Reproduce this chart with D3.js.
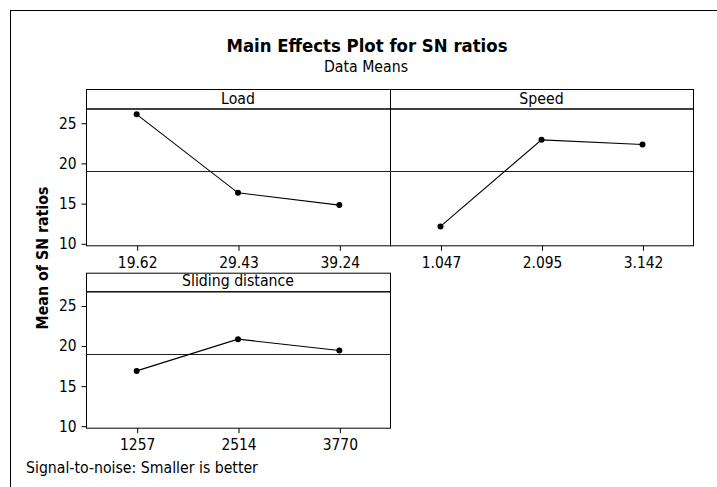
<!DOCTYPE html>
<html>
<head>
<meta charset="utf-8">
<script src="https://cdn.jsdelivr.net/npm/d3@7"></script>
<style>
  body { margin: 0; background: #fff; }
  svg text { font-family: "DejaVu Sans Condensed", "DejaVu Sans", sans-serif; font-stretch: condensed; fill: #000; }
  .axis .domain { display: none; }
  .axis line { stroke: #000; }
  .axis text { font-size: 15.4px; }
</style>
</head>
<body>
<script>

// Chart data
var factors = ['Load', 'Speed', 'Sliding distance']
var loadLevels = ['19.62', '29.43', '39.24']
var speedLevels = ['1.047', '2.095', '3.142']
var slidingLevels = ['1257', '2514', '3770']
var loadMeans = [26.04, 16.28, 14.75]
var speedMeans = [12.1, 22.87, 22.3]
var slidingMeans = [16.84, 20.8, 19.38]
var grandMean = 18.97
var yTicks = [10, 15, 20, 25]
var yDomain = [9.75, 26.77]

var levels = [loadLevels, speedLevels, slidingLevels]
var means = [loadMeans, speedMeans, slidingMeans]

// Canvas
var W = 717, H = 487

var svg = d3.select('body').append('svg')
  .attr('width', W)
  .attr('height', H)

// outer frame (runs off the right and bottom edge like the original)
svg.append('rect')
  .attr('x', 10.5).attr('y', 10.5)
  .attr('width', 730).attr('height', 500)
  .attr('fill', 'none').attr('stroke', '#000')

svg.append('text')
  .attr('x', 367).attr('y', 52)
  .attr('text-anchor', 'middle')
  .style('font-size', '18.4px').style('font-weight', 'bold')
  .text('Main Effects Plot for SN ratios')

svg.append('text')
  .attr('x', 366).attr('y', 72)
  .attr('text-anchor', 'middle')
  .style('font-size', '15.7px')
  .text('Data Means')

// panel grid: 2 columns, 2 rows
var cols = [86, 390, 693]
var rows = [
  {stripTop: 89, plotTop: 108.5, plotBottom: 245.3},
  {stripTop: 272.7, plotTop: 291.3, plotBottom: 427.7}
]

factors.forEach(function(name, i) {
  var col = i % 2, row = Math.floor(i / 2)
  var x0 = cols[col], x1 = cols[col + 1]
  var r = rows[row]

  var xScale = d3.scalePoint().domain(levels[i]).range([x0, x1]).padding(0.5)
  var yScale = d3.scaleLinear().domain(yDomain).range([r.plotBottom, r.plotTop])

  var g = svg.append('g')

  // strip
  g.append('rect')
    .attr('x', x0 + 0.5).attr('y', r.stripTop + 0.5)
    .attr('width', x1 - x0).attr('height', r.plotTop - r.stripTop)
    .attr('fill', '#fff').attr('stroke', '#000')

  g.append('text')
    .attr('x', (x0 + x1) / 2).attr('y', r.plotTop - 5)
    .attr('text-anchor', 'middle')
    .style('font-size', '15.7px')
    .text(name)

  // plot box
  g.append('rect')
    .attr('x', x0 + 0.5).attr('y', r.plotTop + 0.5)
    .attr('width', x1 - x0).attr('height', r.plotBottom - r.plotTop)
    .attr('fill', 'none').attr('stroke', '#000')

  // grand mean reference line
  g.append('line')
    .attr('x1', x0).attr('x2', x1)
    .attr('y1', Math.round(yScale(grandMean)) + 0.5)
    .attr('y2', Math.round(yScale(grandMean)) + 0.5)
    .attr('stroke', '#222')

  // x axis
  g.append('g')
    .attr('class', 'axis')
    .attr('transform', 'translate(0.5,' + (r.plotBottom + 0.5) + ')')
    .call(d3.axisBottom(xScale).tickSize(5).tickPadding(6))

  // y axis only on the left column
  if (col === 0) {
    g.append('g')
      .attr('class', 'axis')
      .attr('transform', 'translate(' + (x0 + 0.5) + ',0.5)')
      .call(d3.axisLeft(yScale).tickValues(yTicks).tickSize(5).tickPadding(5))
  }

  var pts = levels[i].map(function(lv, j) { return {level: lv, mean: means[i][j]} })

  var line = d3.line()
    .x(function(d) { return xScale(d.level) })
    .y(function(d) { return yScale(d.mean) })

  g.append('path')
    .datum(pts)
    .attr('d', line)
    .attr('fill', 'none')
    .attr('stroke', '#000')
    .attr('stroke-width', 1.1)

  g.selectAll('circle')
    .data(pts)
    .enter().append('circle')
    .attr('cx', function(d) { return xScale(d.level) })
    .attr('cy', function(d) { return yScale(d.mean) })
    .attr('r', 3)
    .attr('fill', '#000')
})

// y axis title
svg.append('text')
  .attr('transform', 'translate(48,258) rotate(-90)')
  .attr('text-anchor', 'middle')
  .style('font-size', '15.8px').style('font-weight', 'bold')
  .text('Mean of SN ratios')

svg.append('text')
  .attr('x', 26).attr('y', 473)
  .style('font-size', '15.7px')
  .text('Signal-to-noise: Smaller is better')

</script>
</body>
</html>
